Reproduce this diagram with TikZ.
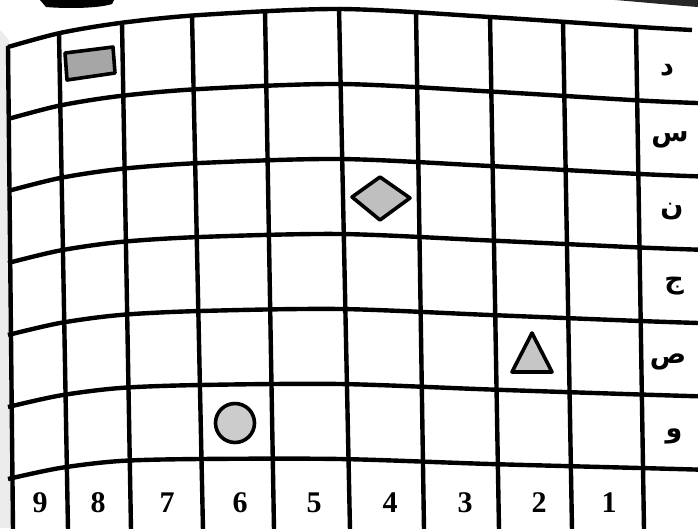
\documentclass[tikz,border=0pt]{standalone}
\usepackage{fontspec}
\setmainfont{Liberation Serif}
\newfontfamily\arabicfont[Script=Arabic]{DejaVu Sans}
\TeXXeTstate=1
\begin{document}
\begin{tikzpicture}[x=1pt,y=-1pt,
  gridline/.style={line width=4.4pt,black},
  shapeline/.style={line width=3.6pt,black,line join=round},
  rowlabel/.style={font=\arabicfont\bfseries\fontsize{27}{27}\selectfont,inner sep=0pt},
  collabel/.style={font=\bfseries\fontsize{30}{30}\selectfont,inner sep=0pt}]
\useasboundingbox (0,0) rectangle (698,528);
\clip (0,0) rectangle (698,528);
\fill[white] (0,0) rectangle (698,528);
\fill[gray!15] (0,30) -- (9,40) -- (12,528) -- (0,528) -- cycle;
% fragments of dark borders above the grid
\fill[black] (40,0) -- (46,7) .. controls (70,9) and (100,8) .. (112,4) -- (114,0) -- cycle;
\fill[black!85] (615,0) -- (698,0) -- (698,7) .. controls (670,5) and (640,2) .. (615,0) -- cycle;
% horizontal curved lines
\draw[gridline] plot[smooth,tension=0.5] coordinates {
    (8,47) (60,33) (120,23) (200,15) (340,9) (490,17) (640,27) (692,30)};
\foreach \k in {1,...,6}{
  \draw[gridline] plot[smooth,tension=0.5] coordinates {
    (8,{47+72*\k}) (60,{33+72.5*\k}) (120,{23+73*\k}) (200,{15+74*\k})
    (340,{9+75*\k}) (490,{17+74.5*\k})
    (640,{27+73.5*\k}) (705,{30+73.3*\k})};
}
% vertical lines
\foreach \xa/\ya/\xb in {8/47/13, 59/34/68, 122/23/131, 192/16/203, 265/11/274,
  339/8/350, 416/12/424, 490/17/499, 563/22/572, 636/28/644}{
  \draw[gridline] (\xa,\ya-1) -- (\xb,530);
}
% shapes
\draw[shapeline,fill=gray!70] (65,53) -- (113,47) -- (115,73) -- (67,80) -- cycle;
\draw[shapeline,fill=gray!50] (352,197) -- (380,177) -- (410,198) -- (380,220) -- cycle;
\draw[shapeline,fill=gray!45] (532,333) -- (552,372) -- (512,372) -- cycle;
\draw[shapeline,fill=gray!40] (235,423) circle (19.5);
% row labels
\node[rowlabel] (rd) at (667,70) {\beginR د\endR};
\node[rowlabel] (rs) at (670,140) {\beginR س\endR};
\node[rowlabel] (rn) at (672,212) {\beginR ن\endR};
\node[rowlabel] (rj) at (674,286) {\beginR ج\endR};
\node[rowlabel] (rsad) at (668,362) {\beginR ص\endR};
\node[rowlabel] (rw) at (674,436) {\beginR و\endR};
% column numbers
\foreach \n/\x in {9/40, 8/98, 7/167, 6/240, 5/314, 4/390, 3/465, 2/539, 1/609}{
  \node[collabel] (c\n) at (\x,503) {\n};
}
\end{tikzpicture}
\end{document}
